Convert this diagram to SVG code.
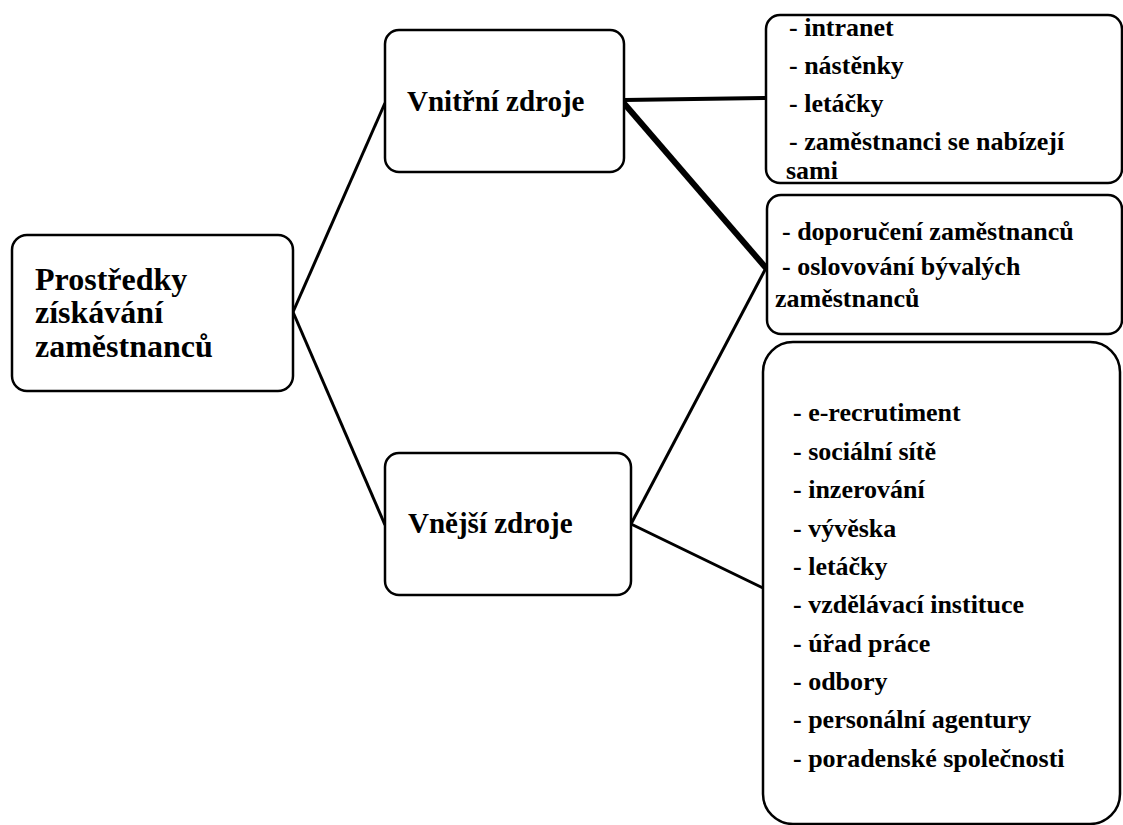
<svg xmlns="http://www.w3.org/2000/svg" width="1123" height="825" viewBox="0 0 1123 825">
<style>
.box{fill:#fff;stroke:#000;stroke-width:2.5}
.t{font-family:"Liberation Serif","Times New Roman",serif;font-weight:bold;fill:#000}
.main{font-size:32px}
.title{font-size:29px}
.item{font-size:26px}
.c{stroke:#000;stroke-width:3;fill:none}
</style>
<rect width="1123" height="825" fill="#fff"/>
<g id="connectors">
<line class="c" x1="293" y1="312" x2="385" y2="103"/>
<line class="c" x1="293" y1="312" x2="385" y2="525"/>
<line class="c" x1="624" y1="100" x2="766" y2="98" style="stroke-width:4"/>
<line class="c" x1="622" y1="101" x2="766" y2="268" style="stroke-width:6"/>
<line class="c" x1="631" y1="524" x2="766" y2="268"/>
<line class="c" x1="631" y1="524" x2="763" y2="588"/>
</g>
<g id="main">
<rect class="box" x="12" y="235" width="281" height="156" rx="15"/>
<text class="t main" x="35" y="290">Prostředky</text>
<text class="t main" x="35" y="323">získávání</text>
<text class="t main" x="35" y="357">zaměstnanců</text>
</g>
<g id="vnitrni">
<rect class="box" x="385" y="30" width="239" height="142" rx="14"/>
<text class="t title" x="407" y="111">Vnitřní zdroje</text>
</g>
<g id="vnejsi">
<rect class="box" x="385" y="453" width="246" height="142" rx="14"/>
<text class="t title" x="408" y="533">Vnější zdroje</text>
</g>
<g id="list-vnitrni">
<rect class="box" x="766" y="15" width="356" height="168" rx="14"/>
<text class="t item" x="789" y="36">- intranet</text>
<text class="t item" x="789" y="74">- nástěnky</text>
<text class="t item" x="789" y="112">- letáčky</text>
<text class="t item" x="789" y="150">- zaměstnanci se nabízejí</text>
<text class="t item" x="786" y="179">sami</text>
</g>
<g id="list-oba">
<rect class="box" x="767" y="195" width="355" height="139" rx="14"/>
<text class="t item" x="782" y="240">- doporučení zaměstnanců</text>
<text class="t item" x="782" y="275">- oslovování bývalých</text>
<text class="t item" x="775" y="307">zaměstnanců</text>
</g>
<g id="list-vnejsi">
<rect class="box" x="763" y="342" width="357" height="482" rx="30"/>
<text class="t item" x="793" y="421">- e-recrutiment</text>
<text class="t item" x="793" y="460">- sociální sítě</text>
<text class="t item" x="793" y="498">- inzerování</text>
<text class="t item" x="793" y="537">- vývěska</text>
<text class="t item" x="793" y="575">- letáčky</text>
<text class="t item" x="793" y="613">- vzdělávací instituce</text>
<text class="t item" x="793" y="652">- úřad práce</text>
<text class="t item" x="793" y="690">- odbory</text>
<text class="t item" x="793" y="728">- personální agentury</text>
<text class="t item" x="793" y="767">- poradenské společnosti</text>
</g>
</svg>
